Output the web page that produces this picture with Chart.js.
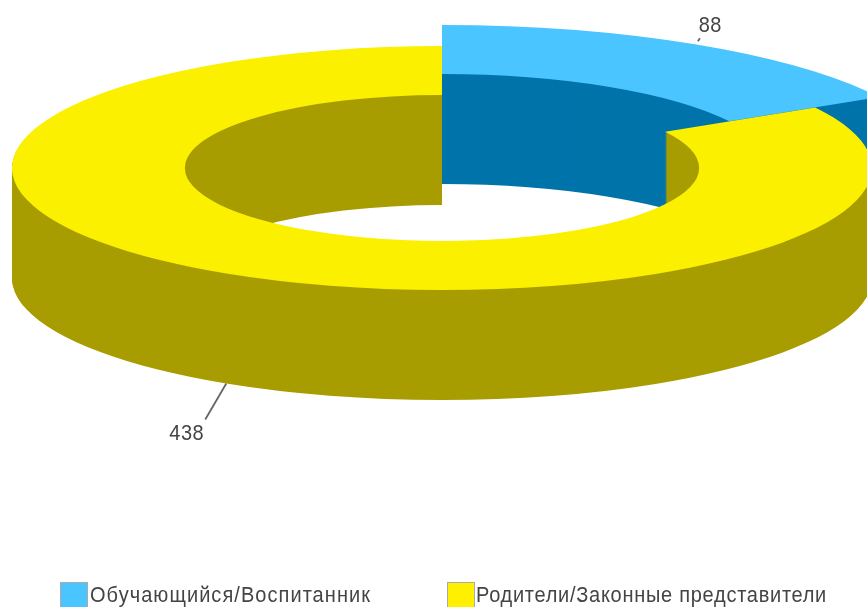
<!DOCTYPE html>
<html><head><meta charset="utf-8">
<script src="https://cdn.jsdelivr.net/npm/chart.js@4"></script>
<style>html,body{margin:0;padding:0;background:#fff;overflow:hidden}canvas{display:block}</style>
</head><body>
<canvas id="c" width="867" height="607"></canvas>
<script>
const categories = ['Обучающийся/Воспитанник', 'Родители/Законные представители'];
const values = [88, 438];
const topColors = ['#4BC5FF', '#FAF000'];
const sideColors = ['#0074AA', '#A89D00'];
const legendSwatchColors = ['#4BC5FF', '#FFEF00'];

const squash = 0.2837;   // vertical flattening of the ring
const depth = 110;       // extrusion height in px
const explode = [74, 0]; // extra ring radius per slice
const textFont = '20px "Liberation Sans", Arial, sans-serif';
const textTallness = 1.1;
const textColor = '#444';

function withArc(arc, idx, color, fn) {
  const o = arc.options, r0 = arc.outerRadius, r1 = arc.innerRadius;
  const opts = Object.create(o);
  opts.backgroundColor = color; opts.borderWidth = 0; opts.borderColor = color;
  arc.options = opts;
  arc.outerRadius = r0 + explode[idx];
  arc.innerRadius = r1 + explode[idx];
  fn();
  arc.options = o; arc.outerRadius = r0; arc.innerRadius = r1;
}

function spacedText(ctx, text, x, y, targetWidth) {
  ctx.save();
  ctx.font = textFont;
  ctx.fillStyle = textColor;
  ctx.textAlign = 'left';
  ctx.textBaseline = 'middle';
  ctx.letterSpacing = '0px';
  const w = ctx.measureText(text).width;
  ctx.letterSpacing = ((targetWidth - w) / text.length).toFixed(3) + 'px';
  ctx.translate(x, y);
  ctx.scale(1, textTallness);
  ctx.fillText(text, 0, 0);
  ctx.restore();
}

const ring3d = {
  id: 'ring3d',
  beforeDatasetsDraw(chart) {
    const ctx = chart.ctx, arcs = chart.getDatasetMeta(0).data;
    arcs.forEach((arc, i) => {
      const paint = (dy, color) => withArc(arc, i, color, () => {
        ctx.save();
        ctx.translate(0, arc.y + dy);
        ctx.scale(1, squash);
        ctx.translate(0, -arc.y);
        arc.draw(ctx);
        ctx.restore();
      });
      for (let d = depth; d > 0; d--) paint(d, sideColors[i]);
      paint(0, topColors[i]);
    });
    return false;
  },
  afterDraw(chart) {
    const ctx = chart.ctx, arcs = chart.getDatasetMeta(0).data;
    ctx.save();
    // value labels with leader lines, anchored at each slice's mid angle
    const leaders = [
      { sx: 3, sy: -3, ex: 5, ey: -6, tx: 4, ty: -18, w: 23, drop: 0 },
      { sx: 0, sy: 0, ex: -21, ey: 36, tx: -57, ty: 50, w: 35, drop: depth }
    ];
    arcs.forEach((arc, i) => {
      const L = leaders[i];
      const mid = (arc.startAngle + arc.endAngle) / 2;
      const R = arc.outerRadius + explode[i];
      const ax = arc.x + Math.cos(mid) * R;
      const ay = arc.y + Math.sin(mid) * R * squash + L.drop;
      ctx.strokeStyle = '#666'; ctx.lineWidth = 1.8;
      ctx.beginPath(); ctx.moveTo(ax + L.sx, ay + L.sy); ctx.lineTo(ax + L.ex, ay + L.ey); ctx.stroke();
      spacedText(ctx, String(values[i]), ax + L.tx, ay + L.ty, L.w);
    });
    // legend
    const slots = [{ box: 60, text: 90, w: 281 }, { box: 447, text: 476, w: 351 }];
    categories.forEach((name, i) => {
      ctx.fillStyle = legendSwatchColors[i];
      ctx.fillRect(slots[i].box, 582, 27, 27);
      ctx.strokeStyle = '#aaa'; ctx.lineWidth = 1;
      ctx.strokeRect(slots[i].box + 0.5, 582.5, 27, 27);
      spacedText(ctx, name, slots[i].text, 596, slots[i].w);
    });
    ctx.restore();
  }
};

new Chart(document.getElementById('c'), {
  type: 'doughnut',
  data: { labels: categories, datasets: [{ data: values, backgroundColor: topColors, borderWidth: 0 }] },
  options: {
    responsive: false,
    animation: false,
    radius: 430,
    cutout: '59.8%',
    layout: { padding: { left: 17, right: 0, top: 0, bottom: 271 } },
    plugins: { legend: { display: false }, tooltip: { enabled: false } }
  },
  plugins: [ring3d]
});
</script>
</body></html>
